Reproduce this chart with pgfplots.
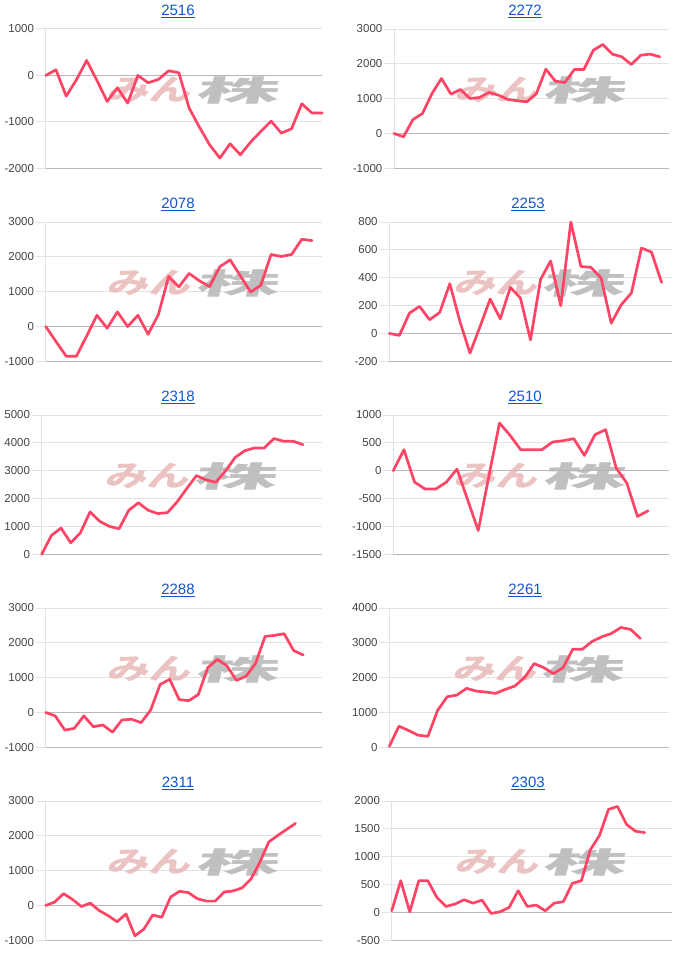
\documentclass[border=0pt]{standalone}
\usepackage{pgfplots}
\pgfplotsset{compat=1.18}
\usepackage{fontspec}
\setmainfont{Liberation Sans}
\newfontfamily\cjk{Noto Sans CJK JP}

\definecolor{linered}{HTML}{FF4466}
\definecolor{gridgray}{HTML}{E2E2E2}
\definecolor{basegray}{HTML}{B8B8B8}
\definecolor{ticktext}{HTML}{444444}
\definecolor{linkblue}{HTML}{1155CC}
\definecolor{wmpink}{HTML}{E9B9B9}
\definecolor{wmgray}{HTML}{B5B5B5}

\pgfplotsset{
  panel/.style={
    scale only axis, height=139.3pt, anchor=south west,
    axis x line=none, axis y line*=left,
    y axis line style={gridgray, line width=1pt},
    xtick=\empty, xmin=0,
    ymajorgrids, major grid style={gridgray, line width=1pt},
    tick align=outside, major tick length=10pt,
    ytick style={gridgray, line width=1pt},
    yticklabel={\pgfmathparse{int(round(\tick))}\pgfmathresult},
    yticklabel style={font=\fontsize{11.5}{13}\selectfont, text=ticktext, inner xsep=1.5pt},
    clip=false,
  },
  series/.style={linered, line width=2.7pt, line join=round, line cap=round, mark=none},
}

\tikzset{
  cjk-wm/.style={font=\cjk\bfseries\fontsize{29}{31}\selectfont, xslant=0.25, inner sep=0pt, opacity=0.85},
}

% #1 x0, #2 width, #3 y bottom, #4 ymin, #5 ymax, #6 ystep, #7 xmax, #8 coordinates
\newcommand{\panel}[8]{%
  \begin{axis}[panel, at={(#1pt,#3pt)}, width=#2, ymin=#4, ymax=#5, ytick distance=#6, xmax=#7,
      extra y ticks={#4,0}, extra y tick labels={},
      extra y tick style={major grid style={basegray, line width=1pt}}]
    \node[cjk-wm, text=wmpink, xscale=1.45, anchor=east] at (rel axis cs:0.535,0.56) {みん};
    \node[cjk-wm, text=wmgray, xscale=2.85, anchor=west] at (rel axis cs:0.548,0.56) {株};
    \addplot[series] coordinates {#8};
  \end{axis}}

\newcommand{\ttl}[3]{%
  \node[anchor=base, inner sep=0pt, text=linkblue, font=\fontsize{15}{18}\selectfont] (t) at (#1pt,#2pt) {#3};
  \draw[linkblue, line width=1.1pt] ([yshift=-1.8pt]t.base west) -- ([yshift=-1.8pt]t.base east);}

\begin{document}
\begin{tikzpicture}[x=1pt, y=1pt]
\path[use as bounding box] (0pt,0pt) rectangle (700pt,-965pt);

% row 1
\ttl{178}{-15.7}{2516}
\panel{45.7}{276.6pt}{-168.3}{-2000}{1000}{1000}{27}{
(0,0) (1,122) (2,-445) (3,-93) (4,323) (5,-108) (6,-560) (7,-266) (8,-596) (9,0)
(10,-158) (11,-86) (12,100) (13,57) (14,-703) (15,-1112) (16,-1493) (17,-1780) (18,-1472) (19,-1709)
(20,-1436) (21,-1206) (22,-983) (23,-1242) (24,-1149) (25,-610) (26,-811) (27,-811)}

\ttl{525}{-15.7}{2272}
\panel{394}{275.3pt}{-168.3}{-1000}{3000}{1000}{29}{
(0,0) (1,-96) (2,402) (3,574) (4,1148) (5,1579) (6,1129) (7,1263) (8,1005) (9,1033)
(10,1177) (11,1100) (12,976) (13,938) (14,909) (15,1148) (16,1847) (17,1502) (18,1464) (19,1837)
(20,1837) (21,2392) (22,2555) (23,2278) (24,2201) (25,1981) (26,2249) (27,2278) (28,2201)}

% row 2
\ttl{178}{-208.7}{2078}
\panel{45.7}{276.6pt}{-361.3}{-1000}{3000}{1000}{27}{
(0,0) (1,-430) (2,-854) (3,-854) (4,-272) (5,320) (6,-49) (7,417) (8,0) (9,320)
(10,-223) (11,340) (12,1437) (13,1136) (14,1524) (15,1311) (16,1146) (17,1718) (18,1913) (19,1456)
(20,990) (21,1184) (22,2068) (23,2010) (24,2068) (25,2505) (26,2466)}

\ttl{528}{-208.7}{2253}
\panel{389.3}{282.4pt}{-361.3}{-200}{800}{200}{28}{
(0,0) (1,-14) (2,146) (3,194) (4,98) (5,151) (6,357) (7,86) (8,-141) (9,50)
(10,247) (11,105) (12,331) (13,254) (14,-46) (15,388) (16,520) (17,199) (18,800) (19,481)
(20,474) (21,398) (22,74) (23,206) (24,290) (25,613) (26,584) (27,366)}

% row 3
\ttl{178}{-401.7}{2318}
\panel{41.7}{280.6pt}{-554.3}{0}{5000}{1000}{29}{
(0,0) (1,676) (2,942) (3,411) (4,773) (5,1522) (6,1184) (7,1002) (8,918) (9,1582)
(10,1848) (11,1582) (12,1461) (13,1498) (14,1884) (15,2367) (16,2826) (17,2669) (18,2585) (19,2995)
(20,3478) (21,3720) (22,3816) (23,3816) (24,4155) (25,4058) (26,4058) (27,3937)}

\ttl{525}{-401.7}{2510}
\panel{393.3}{276pt}{-554.3}{-1500}{1000}{500}{26}{
(0,0) (1,377) (2,-204) (3,-329) (4,-329) (5,-204) (6,30) (7,-521) (8,-1072) (9,-102)
(10,856) (11,635) (12,377) (13,377) (14,377) (15,515) (16,539) (17,575) (18,275) (19,647)
(20,737) (21,48) (22,-222) (23,-820) (24,-719)}

% row 4
\ttl{178}{-594.7}{2288}
\panel{45.7}{276.6pt}{-747.3}{-1000}{3000}{1000}{29}{
(0,0) (1,-97) (2,-505) (3,-456) (4,-97) (5,-408) (6,-359) (7,-563) (8,-214) (9,-194)
(10,-291) (11,68) (12,806) (13,951) (14,369) (15,340) (16,515) (17,1291) (18,1524) (19,1340)
(20,922) (21,1039) (22,1408) (23,2185) (24,2214) (25,2262) (26,1777) (27,1650)}

\ttl{525}{-594.7}{2261}
\panel{389.3}{280pt}{-747.3}{0}{4000}{1000}{29}{
(0,30) (1,606) (2,481) (3,346) (4,317) (5,1058) (6,1452) (7,1500) (8,1692) (9,1615)
(10,1587) (11,1548) (12,1663) (13,1760) (14,2000) (15,2404) (16,2288) (17,2115) (18,2288) (19,2817)
(20,2817) (21,3038) (22,3173) (23,3269) (24,3442) (25,3385) (26,3125)}

% row 5
\ttl{178}{-787.7}{2311}
\panel{45.7}{276.6pt}{-940.3}{-1000}{3000}{1000}{31}{
(0,0) (1,97) (2,340) (3,175) (4,-29) (5,68) (6,-146) (7,-291) (8,-466) (9,-243)
(10,-874) (11,-680) (12,-272) (13,-340) (14,243) (15,408) (16,369) (17,194) (18,126) (19,126)
(20,388) (21,417) (22,505) (23,757) (24,1243) (25,1825) (26,2010) (27,2185) (28,2359)}

\ttl{528}{-787.7}{2303}
\panel{391.7}{280pt}{-940.3}{-500}{2000}{500}{31}{
(0,30) (1,570) (2,12) (3,570) (4,570) (5,270) (6,108) (7,150) (8,228) (9,168)
(10,222) (11,-18) (12,12) (13,90) (14,390) (15,108) (16,132) (17,30) (18,168) (19,192)
(20,522) (21,570) (22,1128) (23,1380) (24,1848) (25,1902) (26,1578) (27,1458) (28,1434)}

\end{tikzpicture}
\end{document}
